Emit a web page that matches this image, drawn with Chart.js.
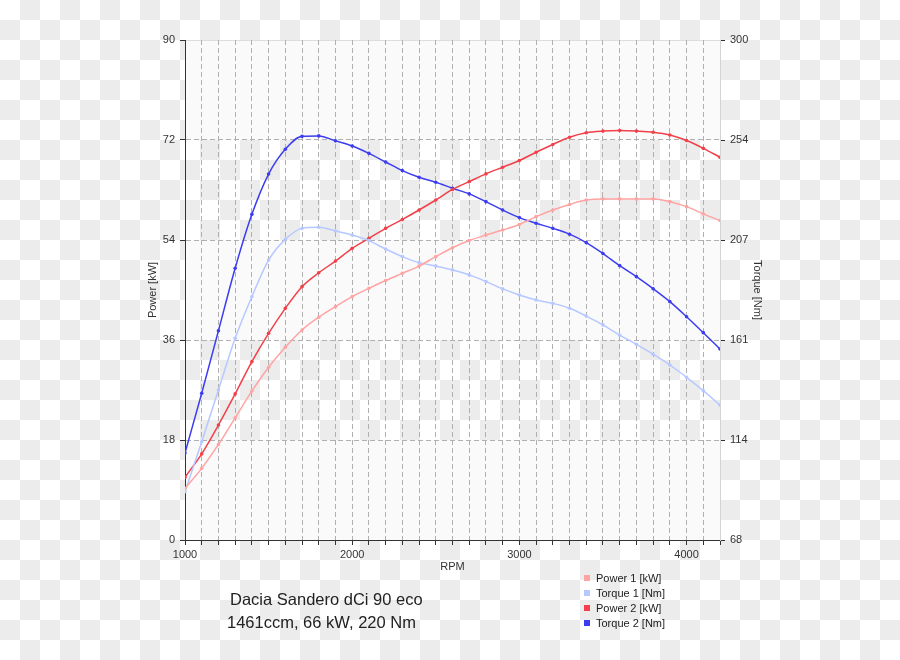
<!DOCTYPE html>
<html>
<head>
<meta charset="utf-8">
<script src="https://cdn.jsdelivr.net/npm/chart.js@4/dist/chart.umd.min.js"></script>
<style>
  html, body { margin: 0; padding: 0; }
  body {
    width: 900px; height: 660px; position: relative; overflow: hidden;
    background-color: #fff;
    background-image: conic-gradient(#ececec 25%, #fff 0 50%, #ececec 0 75%, #fff 0);
    background-size: 40px 40px;
    font-family: "Liberation Sans", Arial, sans-serif;
    color: #222;
  }
  #chart { position: absolute; left: 0; top: 0; }
  .titulo { position: absolute; font-size: 16.5px; line-height: 23px; }
  .legenda { position: absolute; left: 584px; top: 571px; font-size: 11px; line-height: 15px; }
  .legenda div { white-space: nowrap; }
  .legenda span { display: inline-block; width: 6px; height: 6px; margin-right: 6px; vertical-align: 1px; }
</style>
</head>
<body>
<canvas id="chart" width="900" height="660"></canvas>
<div class="titulo" style="left:230px; top:588px;">Dacia Sandero dCi 90 eco</div>
<div class="titulo" style="left:227px; top:611px;">1461ccm, 66 kW, 220 Nm</div>
<div class="legenda" id="legenda"></div>
<script>
// Rotações (RPM)
const rpm = [1000, 1100, 1200, 1300, 1400, 1500, 1600, 1700, 1800, 1900, 2000,
             2100, 2200, 2300, 2400, 2500, 2600, 2700, 2800, 2900, 3000,
             3100, 3200, 3300, 3400, 3500, 3600, 3700, 3800, 3900, 4000, 4100, 4200];

// Séries
const power1 = [9.3, 12.9, 17.2, 22.0, 26.8, 31.1, 34.7, 37.8, 40.1, 42.0, 43.8,
                45.3, 46.7, 48.0, 49.3, 51.0, 52.6, 53.9, 54.9, 55.8, 56.8,
                58.2, 59.4, 60.4, 61.2, 61.4, 61.4, 61.4, 61.4, 60.9, 60.0, 58.7, 57.5];
const torque1 = [90.4, 113.6, 137.6, 161.6, 180.9, 197.9, 207.5, 212.6, 213.1, 211.4, 209.5,
                 206.9, 203.0, 199.5, 196.7, 195.1, 193.3, 191.0, 187.9, 184.5, 181.7,
                 179.4, 177.8, 175.5, 171.9, 167.8, 163.1, 158.8, 154.2, 149.2, 143.5, 137.3, 130.6];
const power2 = [11.3, 15.5, 20.7, 26.3, 32.1, 37.2, 41.7, 45.6, 48.1, 50.2, 52.5,
                54.3, 56.1, 57.7, 59.4, 61.2, 63.1, 64.5, 65.9, 67.1, 68.3,
                69.8, 71.2, 72.5, 73.3, 73.6, 73.7, 73.6, 73.4, 72.9, 71.9, 70.5, 68.9];
const torque2 = [108.4, 136.1, 165.1, 194.1, 219.1, 237.8, 249.3, 255.3, 255.5, 253.2, 250.8,
                 247.4, 243.4, 239.4, 236.3, 234.0, 231.2, 228.6, 225.0, 221.1, 217.6,
                 215.0, 212.6, 209.9, 206.0, 200.9, 195.3, 190.2, 184.6, 178.6, 171.6, 164.2, 156.6];

const series = [
    { label: 'Power 1 [kW]', data: power1, eixo: 'yPower', cor: '#ffa3a3' },
    { label: 'Torque 1 [Nm]', data: torque1, eixo: 'yTorque', cor: '#b6c8ff' },
    { label: 'Power 2 [kW]', data: power2, eixo: 'yPower', cor: '#f2404a' },
    { label: 'Torque 2 [Nm]', data: torque2, eixo: 'yTorque', cor: '#3c3cf0' }
];

// faixas horizontais claras (o resto deixa o fundo quadriculado aparecer)
const faixas = [[72, 90], [36, 54], [0, 18]];

Chart.defaults.font.family = '"Liberation Sans", Arial, sans-serif';
Chart.defaults.font.size = 11;
Chart.defaults.color = '#333';

const pluginFaixas = {
    id: 'faixas',
    beforeDraw(chart) {
        const { ctx, chartArea: a, scales } = chart;
        const y = scales.yPower;
        ctx.save();
        ctx.fillStyle = '#fafafa';
        faixas.forEach(([lo, hi]) => {
            const y1 = y.getPixelForValue(hi), y2 = y.getPixelForValue(lo);
            ctx.fillRect(a.left, y1, a.right - a.left, y2 - y1);
        });
        ctx.strokeStyle = '#dcdcdc';
        ctx.lineWidth = 1;
        ctx.beginPath();
        ctx.moveTo(a.left, a.top + 0.5);
        ctx.lineTo(a.right, a.top + 0.5);
        ctx.stroke();
        ctx.restore();
    }
};

const dashGrid = [5, 3];

new Chart(document.getElementById('chart'), {
    type: 'line',
    data: {
        datasets: series.map(s => ({
            label: s.label,
            data: s.data.map((v, i) => ({ x: rpm[i], y: v })),
            yAxisID: s.eixo,
            borderColor: s.cor,
            backgroundColor: s.cor,
            borderWidth: 1.5,
            pointRadius: 1.8,
            pointBorderWidth: 0,
            cubicInterpolationMode: 'monotone',
            fill: false
        }))
    },
    options: {
        responsive: false,
        animation: false,
        devicePixelRatio: 1,
        layout: { padding: { left: 142, right: 132, top: 40, bottom: 82 } },
        plugins: { legend: { display: false }, tooltip: { enabled: false } },
        scales: {
            x: {
                type: 'linear',
                min: 1000,
                max: 4200,
                afterFit: (s) => { s.height = 38; },
                ticks: {
                    stepSize: 100,
                    autoSkip: false,
                    maxRotation: 0,
                    padding: 3,
                    callback: (v) => (v % 1000 === 0 ? String(v) : '')
                },
                grid: {
                    color: '#b0b0b0',
                    tickLength: 5,
                    tickColor: '#333',
                    tickBorderDash: []
                },
                border: { color: '#333', width: 1, dash: dashGrid },
                title: { display: true, text: 'RPM', padding: 4 }
            },
            yPower: {
                position: 'left',
                min: 0,
                max: 90,
                afterFit: (s) => { s.width = 43; },
                ticks: { stepSize: 18, padding: 5 },
                grid: {
                    color: (c) => (c.tick.value === 90 || c.tick.value === 0 ? 'rgba(0,0,0,0)' : '#b0b0b0'),
                    tickLength: 5,
                    tickColor: '#333',
                    tickBorderDash: []
                },
                border: { color: '#333', width: 1, dash: dashGrid },
                title: { display: true, text: 'Power [kW]', padding: 4 }
            },
            yTorque: {
                position: 'right',
                min: 68,
                max: 300,
                afterFit: (s) => { s.width = 48; },
                ticks: { count: 6, padding: 5, callback: (v) => String(Math.round(v)) },
                grid: {
                    drawOnChartArea: false,
                    tickLength: 5,
                    tickColor: '#333'
                },
                border: { color: '#d4d4d4', width: 1 },
                title: { display: true, text: 'Torque [Nm]', padding: 4 }
            }
        }
    },
    plugins: [pluginFaixas]
});

// Legenda em HTML
const legenda = document.getElementById('legenda');
series.forEach(s => {
    const linha = document.createElement('div');
    linha.innerHTML = `<span style="background:${s.cor}"></span>${s.label}`;
    legenda.appendChild(linha);
});
</script>
</body>
</html>
